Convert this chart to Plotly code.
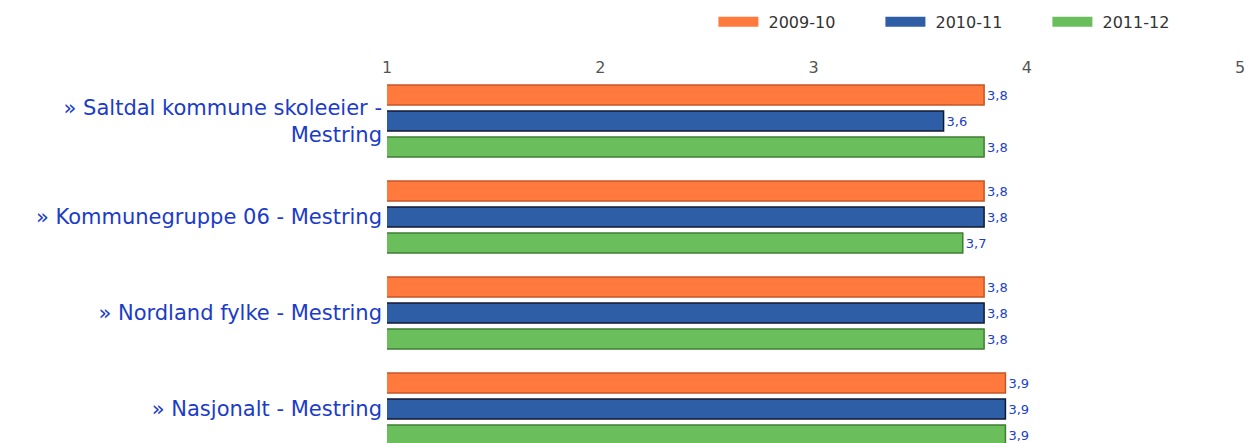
import plotly.graph_objects as go

categories = [
    "» Saltdal kommune skoleeier -<br>Mestring",
    "» Kommunegruppe 06 - Mestring",
    "» Nordland fylke - Mestring",
    "» Nasjonalt - Mestring",
]
series_names = ["2009-10", "2010-11", "2011-12"]
v_2009_10 = [3.8, 3.8, 3.8, 3.9]
v_2010_11 = [3.61, 3.8, 3.8, 3.9]
v_2011_12 = [3.8, 3.7, 3.8, 3.9]
x_ticks = [1, 2, 3, 4, 5]

fills = ["#FF7A3C", "#2E5FA6", "#6ABF5C"]
edges = ["#C45526", "#111A33", "#3E7E33"]

fig = go.Figure()
for name, vals, fc, ec in zip(series_names, [v_2009_10, v_2010_11, v_2011_12], fills, edges):
    fig.add_trace(go.Bar(
        y=categories, x=vals, base=0, orientation="h", name=name,
        marker=dict(color=fc, line=dict(color=ec, width=1.5)),
        text=[f"{v:.1f}".replace(".", ",") for v in vals],
        textposition="outside", constraintext="none", cliponaxis=False,
        textfont=dict(family="DejaVu Sans", size=13, color="#2040C8"),
        showlegend=False, hoverinfo="skip",
    ))
    # legend swatch entries (wide swatches like the original)
    fig.add_trace(go.Scatter(
        x=[None], y=[None], mode="lines", name=" " + name,
        line=dict(color=fc, width=15), showlegend=True,
    ))

fig.update_layout(
    width=1250, height=435,
    margin=dict(l=379, r=18, t=65, b=0, autoexpand=False),
    paper_bgcolor="white", plot_bgcolor="white",
    barmode="group", bargap=0.1875, bargroupgap=0.23,
    font=dict(family="DejaVu Sans", size=16, color="#333333"),
    legend=dict(orientation="h", x=0.97, xanchor="right", y=1.138, yanchor="middle",
                font=dict(size=16, color="#333333"), itemwidth=40, traceorder="normal",
                entrywidth=112, entrywidthmode="pixels"),
    xaxis=dict(range=[1, 5], side="top", tickvals=x_ticks, ticktext=[str(t) for t in x_ticks],
               showgrid=False, zeroline=False, showline=False, ticks="", automargin=False,
               ticklabelstandoff=-4, tickfont=dict(size=16, color="#555555")),
    yaxis=dict(range=[3.354, -0.5], showgrid=False, zeroline=False, showline=False, ticks="",
               automargin=False, tickfont=dict(size=21, color="#1B3BC8"), ticklabelstandoff=4),
)

fig.write_html("out.html")
